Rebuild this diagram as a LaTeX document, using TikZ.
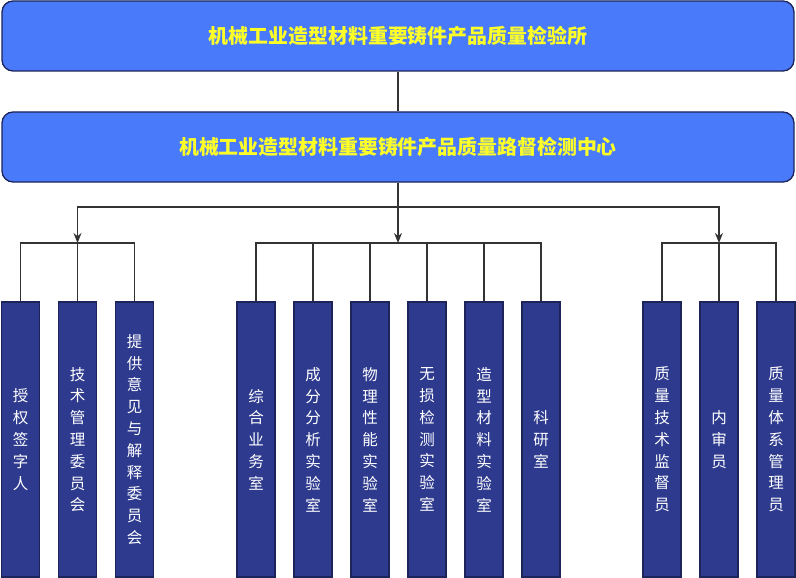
\documentclass[tikz,border=0pt]{standalone}
\usepackage{fontspec}
\setmainfont{Noto Sans CJK SC}
\usetikzlibrary{arrows.meta}
\definecolor{headblue}{RGB}{72,122,250}
\definecolor{unitblue}{RGB}{45,58,142}
\definecolor{edgenavy}{RGB}{28,36,90}
\definecolor{headtext}{RGB}{255,255,40}
\begin{document}
\begin{tikzpicture}[x=1pt,y=1pt,
  head/.style={rectangle,rounded corners=11pt,draw=edgenavy,line width=1.3pt,fill=headblue,
    minimum width=792pt,minimum height=70pt,text=headtext,font=\fontsize{19.9}{24}\selectfont\bfseries},
  unit/.style={rectangle,draw=edgenavy,line width=1.3pt,fill=unitblue,minimum width=38pt,
    minimum height=275pt,text=white,align=center,inner sep=0pt,font=\fontsize{15.5}{21.8}\selectfont},
  link/.style={draw=black!80,line width=1.3pt},
  >={Stealth[length=10pt,width=8pt]}]
\useasboundingbox (0,0) rectangle (796,-578);
\node[head] (institute) at (398,-36) {机械工业造型材料重要铸件产品质量检验所};
\node[head] (center) at (398,-147) {机械工业造型材料重要铸件产品质量路督检测中心};
% left group
\node[unit] (a1) at (20.5,-439.5) {授\\权\\签\\字\\人};
\node[unit] (a2) at (77.5,-439.5) {技\\术\\管\\理\\委\\员\\会};
\node[unit] (a3) at (134.5,-439.5) {提\\供\\意\\见\\与\\解\\释\\委\\员\\会};
% middle group
\node[unit] (b1) at (256,-439.5) {综\\合\\业\\务\\室};
\node[unit] (b2) at (313,-439.5) {成\\分\\分\\析\\实\\验\\室};
\node[unit] (b3) at (370,-439.5) {物\\理\\性\\能\\实\\验\\室};
\node[unit] (b4) at (427,-439.5) {无\\损\\检\\测\\实\\验\\室};
\node[unit] (b5) at (484,-439.5) {造\\型\\材\\料\\实\\验\\室};
\node[unit] (b6) at (541,-439.5) {科\\研\\室};
% right group
\node[unit] (c1) at (662,-439.5) {质\\量\\技\\术\\监\\督\\员};
\node[unit] (c2) at (719,-439.5) {内\\审\\员};
\node[unit] (c3) at (776,-439.5) {质\\量\\体\\系\\管\\理\\员};
\coordinate (bus) at (398,-207);
\coordinate (gl) at (77.5,-243);
\coordinate (gm) at (398,-243);
\coordinate (gr) at (719,-243);
\draw[link] (institute) -- (center);
\draw[link,->] (center) -- (gm);
\draw[link,->] (bus) -| (gl);
\draw[link,->] (bus) -| (gr);
\draw[link] (a1.north) |- (gl) -| (a3.north);
\draw[link] (a2.north) -- (gl);
\draw[link] (b1.north) |- (gm) -| (b6.north);
\foreach \i in {2,...,5}
  \draw[link] (b\i.north) -- (b\i.north |- gm);
\draw[link] (c1.north) |- (gr) -| (c3.north);
\draw[link] (c2.north) -- (gr);
\end{tikzpicture}
\end{document}
